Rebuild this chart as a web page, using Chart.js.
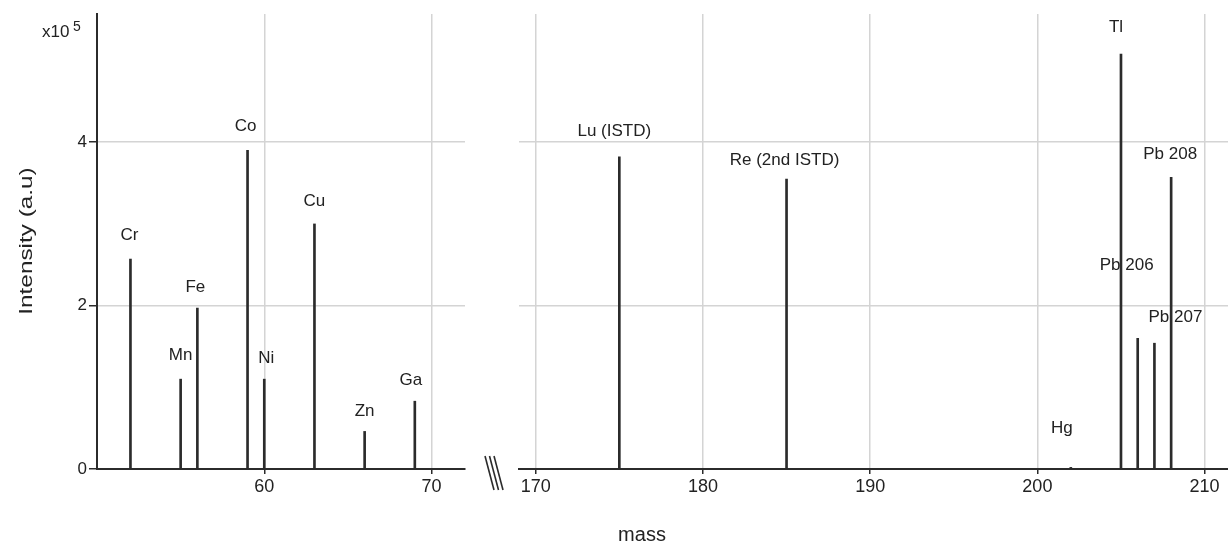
<!DOCTYPE html>
<html>
<head>
<meta charset="utf-8">
<title>ICP-MS spectrum</title>
<script src="https://cdn.jsdelivr.net/npm/chart.js@4.4.1/dist/chart.umd.min.js"></script>
<style>
	html, body { margin: 0; padding: 0; background: #fff; }
	#wrap { position: relative; width: 1228px; height: 544px; overflow: hidden; }
	#wrap canvas { position: absolute; left: 0; top: 0; }
</style>
</head>
<body>
<div id="wrap">
	<canvas id="lowMass" width="1228" height="544"></canvas>
	<canvas id="highMass" width="1228" height="544"></canvas>
</div>
<script>
// peaks, intensity in units of 10^5
const lowMasses = [52, 55, 56, 59, 60, 63, 66, 69];
const lowNames = ["Cr", "Mn", "Fe", "Co", "Ni", "Cu", "Zn", "Ga"];
const lowIntensity = [2.57, 1.1, 1.97, 3.9, 1.1, 3.0, 0.46, 0.83];
const highMasses = [175, 185, 202, 205, 206, 207, 208];
const highNames = ["Lu (ISTD)", "Re (2nd ISTD)", "Hg", "Tl", "Pb 206", "Pb 207", "Pb 208"];
const highIntensity = [3.82, 3.55, 0.02, 5.08, 1.6, 1.54, 3.57];
const lowTicks = [60, 70];
const highTicks = [170, 180, 190, 200, 210];
const yTicks = [0, 2, 4];

// where each name sits relative to the top of its peak (px)
const labelNudge = {
	Cr: [-1, -24], Mn: [0, -24], Fe: [-2, -21], Co: [-2, -24],
	Ni: [2, -21], Cu: [0, -23], Zn: [0, -20], Ga: [-4, -21],
	"Lu (ISTD)": [-5, -26], "Re (2nd ISTD)": [-2, -19], Hg: [-9, -39],
	Tl: [-5, -27], "Pb 206": [-11, -73], "Pb 207": [21, -26], "Pb 208": [-1, -23],
};

const FONT = "'Liberation Sans', Arial, sans-serif";
const INK = "#2b2b2b";
const GRID = "#d4d4d4";

const peakNames = (masses, names, values) => ({
	id: "peakNames",
	afterDatasetsDraw(chart) {
		const c = chart.ctx;
		const xs = chart.scales.x;
		const ys = chart.scales.y;
		c.save();
		c.font = "17px " + FONT;
		c.fillStyle = "#222";
		c.textAlign = "center";
		c.textBaseline = "middle";
		names.forEach((n, i) => {
			const nudge = labelNudge[n] || [0, -23];
			c.fillText(n, xs.getPixelForValue(masses[i]) + nudge[0], ys.getPixelForValue(values[i]) + nudge[1]);
		});
		c.restore();
	},
});

const decorations = {
	id: "decorations",
	afterDraw(chart) {
		const c = chart.ctx;
		c.save();
		c.fillStyle = "#222";
		// y title, a bit stretched like the original
		c.save();
		c.translate(27, 241);
		c.rotate(-Math.PI / 2);
		c.scale(1.28, 1);
		c.font = "19px " + FONT;
		c.textAlign = "center";
		c.textBaseline = "middle";
		c.fillText("Intensity (a.u)", 0, 0);
		c.restore();
		// exponent
		c.textAlign = "left";
		c.textBaseline = "alphabetic";
		c.font = "17px " + FONT;
		c.fillText("x10", 42, 37);
		c.font = "14px " + FONT;
		c.fillText("5", 73, 31);
		// x title
		c.font = "20px " + FONT;
		c.textAlign = "center";
		c.fillText("mass", 642, 541);
		// axis break marks
		c.strokeStyle = INK;
		c.lineWidth = 1.6;
		for (let k = 0; k < 3; k++) {
			c.beginPath();
			c.moveTo(485 + k * 4.5, 456);
			c.lineTo(494 + k * 4.5, 490);
			c.stroke();
		}
		c.restore();
	},
};

const makeChart = (id, masses, names, values, xRange, xTicks, isLeft) => {
	const extra = [peakNames(masses, names, values)];
	if (isLeft) extra.push(decorations);
	return new Chart(document.getElementById(id), {
		type: "bar",
		data: {
			datasets: [
				{
					data: masses.map((m, i) => ({ x: m, y: values[i] })),
					backgroundColor: INK,
					barThickness: 2,
					grouped: false,
				},
			],
		},
		options: {
			responsive: false,
			animation: false,
			devicePixelRatio: 1,
			layout: {
				padding: { left: 0, top: 14, bottom: 0, right: isLeft ? 763 : 0 },
			},
			plugins: {
				legend: { display: false },
				tooltip: { enabled: false },
			},
			scales: {
				x: {
					type: "linear",
					min: xRange[0],
					max: xRange[1],
					offset: false,
					afterBuildTicks: (s) => {
						s.ticks = xTicks.map((v) => ({ value: v }));
					},
					afterFit: (s) => {
						s.height = 75;
					},
					grid: {
						offset: false,
						color: GRID,
						lineWidth: 1.5,
						tickLength: 5,
						tickColor: INK,
						tickWidth: 1.5,
					},
					border: { color: INK, width: 2 },
					ticks: {
						font: { family: FONT, size: 18 },
						color: "#222",
						padding: 2,
						maxRotation: 0,
					},
				},
				y: {
					min: 0,
					max: 5.57,
					afterBuildTicks: (s) => {
						s.ticks = yTicks.map((v) => ({ value: v }));
					},
					afterFit: (s) => {
						s.width = isLeft ? 97 : 519;
					},
					grid: {
						color: GRID,
						lineWidth: 1.5,
						drawTicks: isLeft,
						tickLength: 8,
						tickColor: INK,
						tickWidth: 1.5,
					},
					border: { display: isLeft, color: INK, width: 2 },
					ticks: {
						display: isLeft,
						font: { family: FONT, size: 17 },
						color: "#222",
						padding: 2,
					},
				},
			},
		},
		plugins: extra,
	});
};

makeChart("lowMass", lowMasses, lowNames, lowIntensity, [50, 72], lowTicks, true);
makeChart("highMass", highMasses, highNames, highIntensity, [169, 211.4], highTicks, false);
</script>
</body>
</html>
